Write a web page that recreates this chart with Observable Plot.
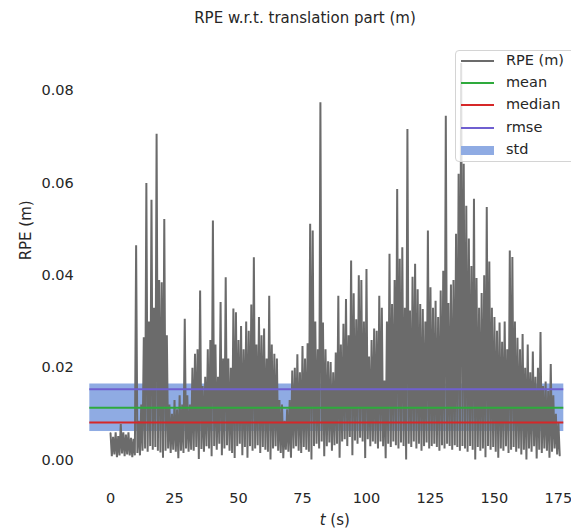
<!DOCTYPE html>
<html>
<head>
<meta charset="utf-8">
<script src="https://cdn.jsdelivr.net/npm/d3@7"></script>
<script src="https://cdn.jsdelivr.net/npm/@observablehq/plot@0.6"></script>
<style>
  body { margin: 0; background: #fff; font-family: "DejaVu Sans", sans-serif; color: #262626; }
  #wrap { position: relative; width: 571px; height: 530px; overflow: hidden; background: #fff; }
  #title { position: relative; height: 34px; font-size: 15px; }
  #title span { position: absolute; left: 305px; top: 9px; transform: translateX(-50%); white-space: nowrap; }
  #legend { position: absolute; left: 455px; top: 50px; width: 130px; height: 112px; box-sizing: border-box;
            border: 1px solid #d4d4d4; border-radius: 4px; background: rgba(255,255,255,0.8); }
  .lg-sample { position: absolute; left: 5px; width: 33px; }
  .lg-label { position: absolute; left: 50px; font-size: 14.5px; line-height: 18px; white-space: nowrap; }
</style>
</head>
<body>
<div id="wrap">
  <div id="title"><span>RPE w.r.t. translation part (m)</span></div>
  <div id="chart"></div>
  <div id="legend"></div>
</div>
<script>
// ---- data ----
// upper envelope of the RPE signal, one value per second (t = 0 … 175 s)
const rpeHigh = [
  0.0058, 0.0050, 0.0060, 0.0052, 0.0078, 0.0060, 0.0055, 0.0060, 0.0048, 0.0046,
  0.0465, 0.0085, 0.0120, 0.0266, 0.0600, 0.0300, 0.0564, 0.0330, 0.0707, 0.0390,
  0.0385, 0.0522, 0.0270, 0.0120, 0.0100, 0.0130, 0.0110, 0.0140, 0.0120, 0.0306,
  0.0140, 0.0120, 0.0200, 0.0230, 0.0240, 0.0367, 0.0160, 0.0180, 0.0240, 0.0260,
  0.0519, 0.0250, 0.0180, 0.0342, 0.0220, 0.0396, 0.0220, 0.0200, 0.0328, 0.0320,
  0.0260, 0.0290, 0.0240, 0.0300, 0.0280, 0.0337, 0.0439, 0.0250, 0.0310, 0.0270,
  0.0285, 0.0220, 0.0356, 0.0250, 0.0230, 0.0220, 0.0130, 0.0120, 0.0085, 0.0110,
  0.0130, 0.0194, 0.0200, 0.0229, 0.0190, 0.0247, 0.0220, 0.0253, 0.0512, 0.0497,
  0.0300, 0.0240, 0.0775, 0.0298, 0.0240, 0.0214, 0.0212, 0.0190, 0.0233, 0.0356,
  0.0250, 0.0295, 0.0349, 0.0270, 0.0432, 0.0361, 0.0305, 0.0400, 0.0390, 0.0300,
  0.0414, 0.0224, 0.0260, 0.0285, 0.0280, 0.0356, 0.0330, 0.0172, 0.0300, 0.0447,
  0.0338, 0.0390, 0.0587, 0.0436, 0.0461, 0.0330, 0.0717, 0.0324, 0.0397, 0.0425,
  0.0370, 0.0338, 0.0327, 0.0300, 0.0497, 0.0374, 0.0330, 0.0345, 0.0310, 0.0367,
  0.0410, 0.0746, 0.0340, 0.0380, 0.0390, 0.0490, 0.0620, 0.0860, 0.0642, 0.0551,
  0.0480, 0.0420, 0.0566, 0.0394, 0.0330, 0.0362, 0.0400, 0.0548, 0.0430, 0.0330,
  0.0310, 0.0280, 0.0298, 0.0256, 0.0300, 0.0240, 0.0454, 0.0440, 0.0300, 0.0265,
  0.0240, 0.0273, 0.0200, 0.0250, 0.0190, 0.0235, 0.0180, 0.0200, 0.0277, 0.0160,
  0.0170, 0.0150, 0.0208, 0.0140, 0.0100, 0.0080
];
// lower envelope of the RPE signal, one value per second (at t + 0.5 s)
const rpeLow = [
  0.0008, 0.0012, 0.0006, 0.0010, 0.0014, 0.0008, 0.0012, 0.0010, 0.0006, 0.0010,
  0.0015, 0.0010, 0.0020, 0.0025, 0.0018, 0.0030, 0.0022, 0.0028, 0.0020, 0.0016,
  0.0005, 0.0020, 0.0025, 0.0015, 0.0022, 0.0018, 0.0004, 0.0020, 0.0015, 0.0025,
  0.0018, 0.0022, 0.0020, 0.0028, 0.0002, 0.0024, 0.0018, 0.0030, 0.0025, 0.0008,
  0.0030, 0.0022, 0.0035, 0.0010, 0.0025, 0.0032, 0.0020, 0.0015, 0.0004, 0.0030,
  0.0035, 0.0010, 0.0028, 0.0005, 0.0030, 0.0020, 0.0025, 0.0032, 0.0015, 0.0028,
  0.0022, 0.0018, 0.0001, 0.0025, 0.0030, 0.0020, 0.0015, 0.0004, 0.0022, 0.0018,
  0.0005, 0.0025, 0.0030, 0.0020, 0.0015, 0.0028, 0.0022, 0.0018, 0.0001, 0.0030,
  0.0035, 0.0025, 0.0040, 0.0008, 0.0030, 0.0038, 0.0020, 0.0032, 0.0035, 0.0005,
  0.0040, 0.0045, 0.0030, 0.0050, 0.0010, 0.0042, 0.0035, 0.0048, 0.0040, 0.0004,
  0.0045, 0.0030, 0.0040, 0.0035, 0.0025, 0.0040, 0.0030, 0.0004, 0.0035, 0.0028,
  0.0040, 0.0032, 0.0025, 0.0038, 0.0030, 0.0001, 0.0035, 0.0028, 0.0040, 0.0025,
  0.0035, 0.0020, 0.0030, 0.0038, 0.0025, 0.0030, 0.0035, 0.0028, 0.0020, 0.0032,
  0.0025, 0.0035, 0.0030, 0.0022, 0.0032, 0.0028, 0.0020, 0.0030, 0.0025, 0.0018,
  0.0030, 0.0022, 0.0001, 0.0028, 0.0020, 0.0025, 0.0006, 0.0030, 0.0022, 0.0028,
  0.0018, 0.0005, 0.0025, 0.0020, 0.0030, 0.0015, 0.0022, 0.0028, 0.0018, 0.0025,
  0.0012, 0.0022, 0.0001, 0.0025, 0.0018, 0.0030, 0.0003, 0.0022, 0.0015, 0.0025,
  0.0020, 0.0005, 0.0018, 0.0025, 0.0012, 0.0010
];
// statistics
const statMean = 0.01131;
const statMedian = 0.00813;
const statRmse = 0.01534;
const statStd = 0.0103;
// tick labels
const xTicks = [0, 25, 50, 75, 100, 125, 150, 175];
const yTicks = [0.00, 0.02, 0.04, 0.06, 0.08];
// legend
const legendLabels = ["RPE (m)", "mean", "median", "rmse", "std"];
const legendColors = ["#6b6b6b", "#2eaa3c", "#d62728", "#6f5fd0", "#8fabe3"];

// ---- build the signal table ----
const signal = [];
rpeHigh.forEach((h, i) => {
  signal.push({ t: i, v: h });
  signal.push({ t: i + 0.5, v: rpeLow[i] });
});

const chart = Plot.plot({
  width: 571,
  height: 496,
  marginLeft: 89.3,
  marginRight: 7.7,
  marginTop: 8.7,
  marginBottom: 53,
  x: { domain: [-8.1, 177.1] },
  y: { domain: [-0.0038, 0.0903] },
  style: { fontFamily: '"DejaVu Sans", sans-serif', fontSize: "14.5px", color: "#262626", background: "white" },
  marks: [
    Plot.rect([0], { y1: statMean - statStd / 2, y2: statMean + statStd / 2, fill: legendColors[4] }),
    Plot.line(signal, { x: "t", y: "v", stroke: legendColors[0], strokeWidth: 2, strokeLinejoin: "miter", strokeMiterlimit: 2 }),
    Plot.ruleY([statMean], { stroke: legendColors[1], strokeWidth: 2 }),
    Plot.ruleY([statMedian], { stroke: legendColors[2], strokeWidth: 2 }),
    Plot.ruleY([statRmse], { stroke: legendColors[3], strokeWidth: 2 }),
    Plot.axisX(xTicks, { tickSize: 0, tickPadding: 15, fontSize: 14.5, label: null }),
    Plot.axisY(yTicks, { tickSize: 0, tickPadding: 16, fontSize: 14.5, tickFormat: d3.format(".2f"), label: null }),
    Plot.text(["RPE (m)"], { frameAnchor: "left", dx: -64, rotate: -90, fontSize: 15, fill: "#262626" }),
    Plot.text(["t (s)"], { frameAnchor: "bottom", dx: 8, dy: 47, fontSize: 15, fill: "#262626" })
  ]
});

// italic "t" in the x label
const svgns = "http://www.w3.org/2000/svg";
chart.querySelectorAll("text").forEach(el => {
  if (el.textContent === "t (s)") {
    el.textContent = "";
    const ts = document.createElementNS(svgns, "tspan");
    ts.setAttribute("font-style", "italic");
    ts.textContent = "t";
    el.appendChild(ts);
    el.appendChild(document.createTextNode(" (s)"));
  }
});
document.getElementById("chart").appendChild(chart);

// legend
const legend = document.getElementById("legend");
legendLabels.forEach((lab, i) => {
  const cy = 9.5 + 22.4 * i;
  const s = document.createElement("div");
  s.className = "lg-sample";
  if (i === 4) {
    s.style.top = (cy - 4.5) + "px";
    s.style.height = "9px";
  } else {
    s.style.top = (cy - 1) + "px";
    s.style.height = "2px";
  }
  s.style.background = legendColors[i];
  legend.appendChild(s);
  const l = document.createElement("div");
  l.className = "lg-label";
  l.style.top = (cy - 10) + "px";
  l.textContent = lab;
  legend.appendChild(l);
});
</script>
</body>
</html>
